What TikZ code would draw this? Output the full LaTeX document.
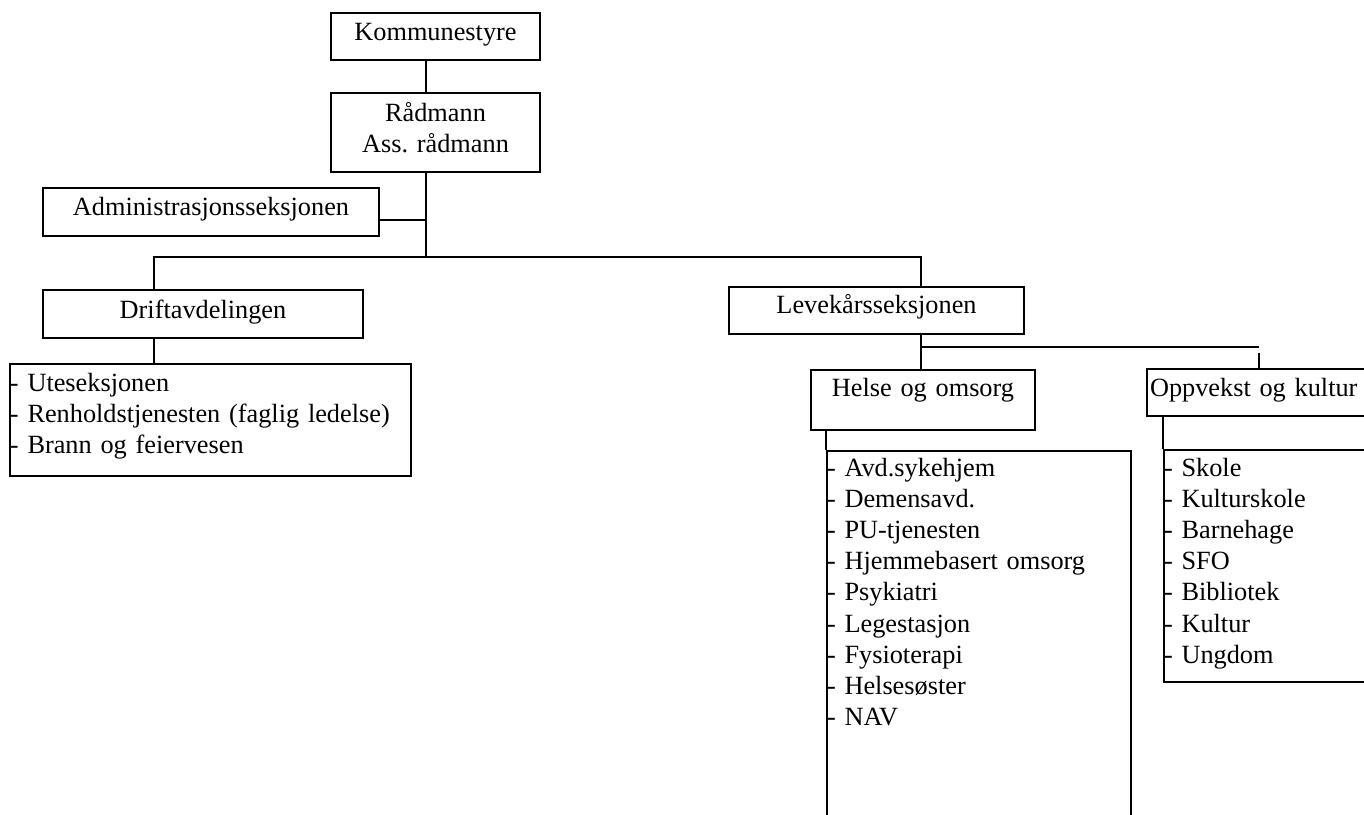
\documentclass[tikz,border=0pt]{standalone}
\usepackage{fontspec}
\setmainfont{Liberation Serif}
\usetikzlibrary{positioning}
\frenchspacing

\begin{document}
\begin{tikzpicture}[x=0.5pt,y=-0.5pt,line width=1pt,
    unit/.style={draw,rectangle,anchor=north west,inner sep=0pt,align=center,
      font=\fontsize{13.15pt}{15.6pt}\selectfont},
    list/.style={unit,align=left}]
  \useasboundingbox (0,0) rectangle (1364,814);
  \clip (0,0) rectangle (1364,814);
  \node[unit, text width=104.5pt, text height=13.5pt, text depth=10pt] (komm) at (330,12) {Kommunestyre};
  \node[unit, text width=104.5pt, text height=14pt, text depth=25.5pt] (radm) at (330,92) {Rådmann\\Ass. rådmann};
  \node[unit, text width=168pt, text height=13.5pt, text depth=10.5pt] (adm) at (42,187) {Administrasjonsseksjonen};
  \node[unit, text width=160pt, text height=14pt, text depth=10pt] (drift) at (42,289) {Driftavdelingen};
  \node[list, text width=200.5pt, text height=13.5pt, text depth=42.5pt] (driftlist) at (9,363)
    {- Uteseksjonen\\- Renholdstjenesten (faglig ledelse)\\- Brann og feiervesen};
  \node[unit, text width=147.5pt, text height=13pt, text depth=10.5pt] (leve) at (728,286) {Levekårsseksjonen};
  \node[unit, text width=112pt, text height=13pt, text depth=17pt] (helse) at (810,369) {Helse og omsorg};
  \node[list, text width=152pt, text height=12.5pt, text depth=182.5pt] (helselist) at (826,450)
    {- Avd.sykehjem\\- Demensavd.\\- PU-tjenesten\\- Hjemmebasert omsorg\\- Psykiatri\\- Legestasjon\\- Fysioterapi\\- Helsesøster\\- NAV};
  \node[list, text width=112pt, text height=13.5pt, text depth=10pt] (oppv) at (1146,368) {\hspace*{1.5pt}Oppvekst og kultur};
  \node[list, text width=152pt, text height=13pt, text depth=103pt] (oppvlist) at (1163,449)
    {- Skole\\- Kulturskole\\- Barnehage\\- SFO\\- Bibliotek\\- Kultur\\- Ungdom};

  \coordinate (bus) at (426,257);
  \coordinate (dbus) at (154,257);
  \coordinate (lbus) at (921,257);
  \coordinate (fork) at (921,347);

  \draw (komm.south -| bus) -- (radm.north -| bus);
  \draw (radm.south -| bus) -- (bus);
  \draw ([yshift=-4pt]adm.east) -- ([yshift=-4pt]adm.east -| bus);
  \draw (dbus |- drift.north) -- (dbus) -- (lbus) -- (lbus |- leve.north);
  \draw (drift.south -| dbus) -- (driftlist.north -| dbus);
  \draw (leve.south -| lbus) -- (helse.north -| lbus);
  \draw (fork) -- (fork -| oppv.north);
  \draw ([yshift=7.5pt]oppv.north) -- (oppv.north);
  \draw (helse.south -| helselist.north west) -- (helselist.north west);
  \draw (oppv.south -| oppvlist.north west) -- (oppvlist.north west);
\end{tikzpicture}
\end{document}
